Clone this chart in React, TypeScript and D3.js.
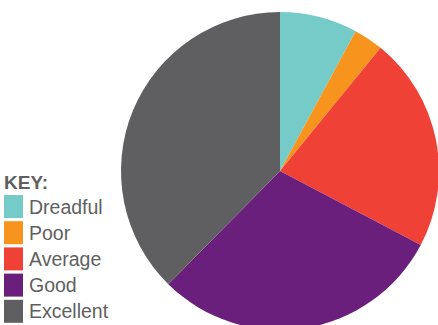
import React from "react";
import * as d3 from "d3";

const categories = ["Dreadful", "Poor", "Average", "Good", "Excellent"];
const values = [7.9, 3, 21.8, 29.7, 37.6];
const colors = ["#74cbc8", "#f7941d", "#ef4136", "#6b1f7d", "#5f5f61"];

export default function App() {
  const W = 438, H = 325;
  const cx = 280, cy = 171, r = 159;
  const pie = d3.pie<number>().sort(null).value((d) => d)(values);
  const arc = d3.arc<d3.PieArcDatum<number>>().innerRadius(0).outerRadius(r);
  return (
    <svg width={W} height={H} style={{ position: "absolute", left: 0, top: 0 }}>
      <g transform={`translate(${cx},${cy})`}>
        {pie.map((p, i) => (
          <path key={i} d={arc(p) || ""} fill={colors[i]} />
        ))}
      </g>
      <text x={4} y={189} fontFamily="Liberation Sans, Arial, sans-serif" fontWeight="bold" fontSize={19} fill="#5f5f61">KEY:</text>
      {categories.map((c, i) => (
        <g key={c}>
          <rect x={4} y={195 + i * 26.2} width={19} height={23} fill={colors[i]} />
          <text x={29} y={213.5 + i * 26.2} fontFamily="Liberation Sans, Arial, sans-serif" fontSize={19.5} fill="#5f5f61">{c}</text>
        </g>
      ))}
    </svg>
  );
}
